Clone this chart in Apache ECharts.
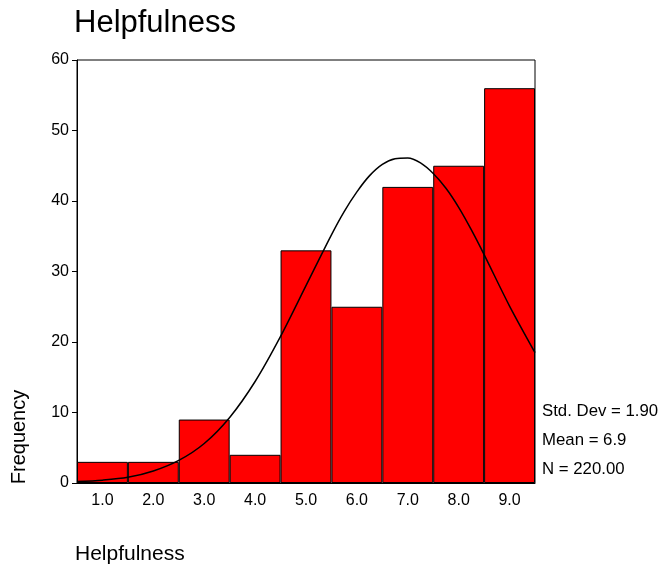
<!DOCTYPE html>
<html><head><meta charset="utf-8">
<script src="https://cdn.jsdelivr.net/npm/echarts@6/dist/echarts.min.js"></script>
<style>html,body{margin:0;padding:0;background:#fff}#c{width:665px;height:571px}</style>
</head><body><div id="c"></div>
<script>
var categories = ['1.0','2.0','3.0','4.0','5.0','6.0','7.0','8.0','9.0'];
var frequencies = [3, 3, 9, 4, 33, 25, 42, 45, 56];
var curveX = [0.5,1.0,1.5,2.0,2.5,3.0,3.5,4.0,4.5,5.0,5.5,5.75,6.0,6.25,6.5,6.75,7.0,7.25,7.5,7.75,8.0,8.25,8.5,9.0,9.5];
var curveY = [0.2,0.4,0.8,1.7,3.2,5.6,9.3,14.4,20.8,28.0,35.2,38.5,41.3,43.6,45.2,46.0,46.1,45.4,43.9,41.8,39.1,35.9,32.4,25.1,18.5];
var yTicks = [0,10,20,30,40,50,60];
var statsLines = ['Std. Dev = 1.90','Mean = 6.9','N = 220.00'];
var FONT = 'Liberation Sans, Arial, sans-serif';

var chart = echarts.init(document.getElementById('c'));
var curve = curveX.map(function(x,i){return [x, curveY[i]];});
var graphics = statsLines.map(function(t,i){
  return {type:'text', x:542, y:411.5+i*29, style:{text:t, font:'16.8px '+FONT, fill:'#000', textVerticalAlign:'middle'}};
});
graphics.push({type:'text', x:9, y:437, rotation:Math.PI/2, style:{text:'Frequency', font:'20px '+FONT, fill:'#000', textAlign:'center', textVerticalAlign:'top'}});
graphics.push({type:'text', x:75, y:554.5, style:{text:'Helpfulness', font:'21px '+FONT, fill:'#000', textVerticalAlign:'middle'}});
graphics.push({type:'text', x:74, y:23, style:{text:'Helpfulness', font:'31px '+FONT, fill:'#000', textVerticalAlign:'middle'}});

chart.setOption({
  animation:false,
  backgroundColor:'#fff',
  grid:{left:77, right:130, top:60, bottom:88, show:true, borderColor:'#000', borderWidth:1},
  xAxis:[
    {type:'category', data:categories, boundaryGap:true,
     axisLine:{lineStyle:{color:'#000'}},
     axisTick:{alignWithLabel:true, length:5, lineStyle:{color:'#000'}},
     axisLabel:{color:'#000', fontFamily:FONT, fontSize:16, margin:10}},
    {type:'value', min:0.5, max:9.5, show:false}
  ],
  yAxis:{type:'value', min:0, max:60, interval:10,
     splitLine:{show:false},
     axisLine:{show:true, lineStyle:{color:'#000'}},
     axisTick:{show:true, length:5, lineStyle:{color:'#000'}},
     axisLabel:{color:'#000', fontFamily:FONT, fontSize:16, margin:8}},
  series:[
    {type:'bar', data:frequencies, barWidth:'100%', barCategoryGap:'0%',
     itemStyle:{color:'#ff0000', borderColor:'#000', borderWidth:1}},
    {type:'line', xAxisIndex:1, data:curve, smooth:0.3, symbol:'none',
     lineStyle:{color:'#000', width:1.5}, z:5}
  ],
  graphic:graphics
});
</script></body></html>
